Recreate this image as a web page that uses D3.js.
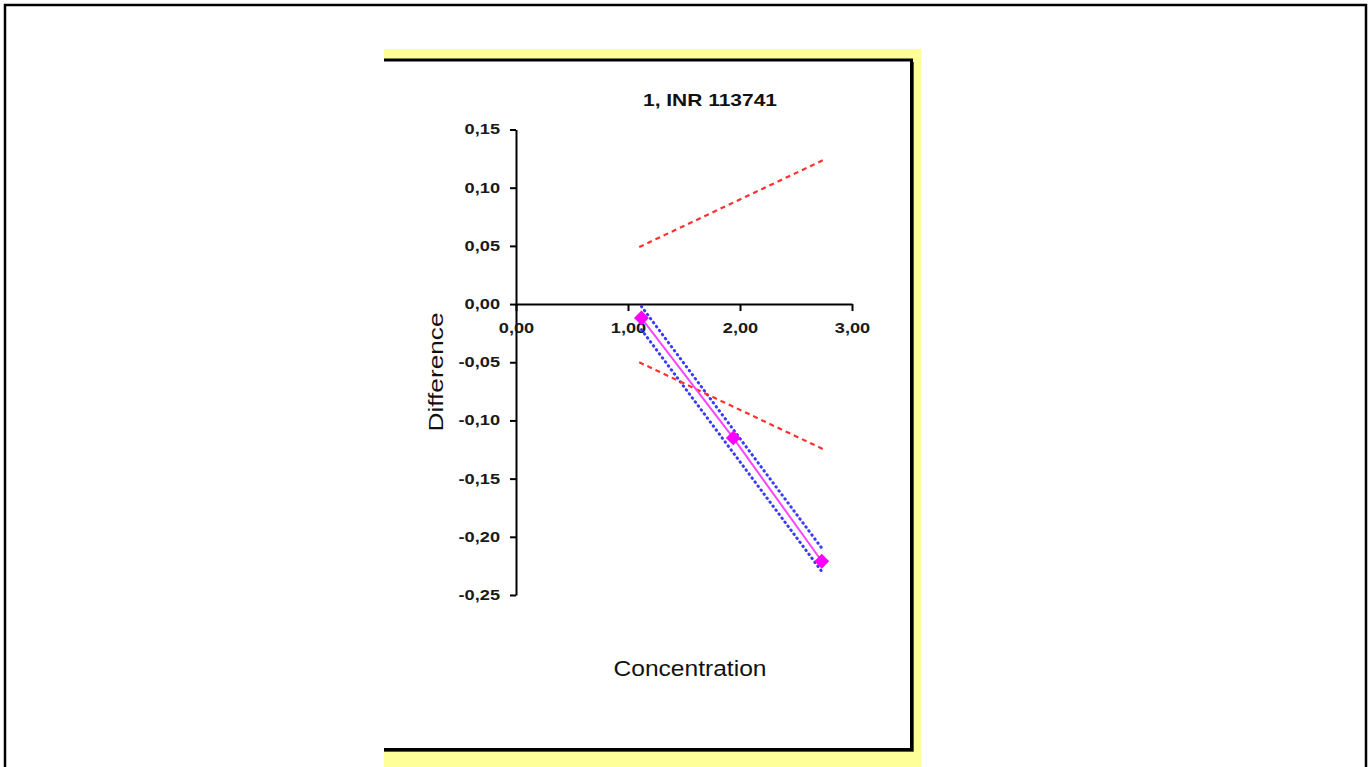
<!doctype html>
<html>
<head>
<meta charset="utf-8">
<script src="https://cdn.jsdelivr.net/npm/d3@7"></script>
<style>
  body { margin: 0; background: #fff; }
  svg { display: block; font-family: "Liberation Sans", Arial, sans-serif; }
</style>
</head>
<body>
<div id="chart"></div>
<script>
var w = 1371;
var h = 767;

// measured points (concentration, difference)
var conc = [1.12, 1.94, 2.73];
var diff = [-0.012, -0.115, -0.221];

// confidence band around the fit (two end points)
var bandX = [1.12, 2.74];
var bandUpper = [-0.002, -0.211];
var bandLower = [-0.022, -0.231];

// acceptance limits
var limX = [1.10, 2.75];
var limUpper = [0.049, 0.124];
var limLower = [-0.050, -0.125];

var xTicks = [0, 1, 2, 3];
var yTicks = [0.15, 0.10, 0.05, 0.00, -0.05, -0.10, -0.15, -0.20, -0.25];

var xScale = d3.scaleLinear().domain([0, 3]).range([516, 852]);
var yScale = d3.scaleLinear().domain([-0.25, 0.15]).range([595, 129.5]);

var fmt = function (d) {
    return d3.format(".2f")(d).replace(".", ",").replace("\u2212", "-");
};

var svg = d3.select("#chart").append("svg")
    .attr("width", w)
    .attr("height", h);

// page frame
svg.append("rect")
    .attr("x", 5).attr("y", 5)
    .attr("width", 1361).attr("height", 800)
    .attr("fill", "none")
    .attr("stroke", "#000")
    .attr("stroke-width", 2.5);

// yellow backdrop + white plot card
svg.append("rect")
    .attr("x", 384).attr("y", 49)
    .attr("width", 537).attr("height", 720)
    .attr("fill", "#ffff99");
svg.append("rect")
    .attr("x", 384).attr("y", 59)
    .attr("width", 527).attr("height", 690)
    .attr("fill", "#fff");
// card border: thin top, heavy right/bottom
svg.append("path")
    .attr("d", "M384,60 H911.5 V749.5 H384")
    .attr("fill", "none")
    .attr("stroke", "#000")
    .attr("stroke-width", 3);
svg.append("path")
    .attr("d", "M913.5,62 V751.5 H384")
    .attr("fill", "none")
    .attr("stroke", "#555")
    .attr("stroke-width", 1);

// axes
var yAxis = d3.axisLeft(yScale)
    .tickValues(yTicks)
    .tickFormat(fmt)
    .tickSize(6)
    .tickSizeOuter(0)
    .tickPadding(10);

var xAxis = d3.axisBottom(xScale)
    .tickValues(xTicks)
    .tickFormat(fmt)
    .tickSize(7)
    .tickSizeOuter(0)
    .tickPadding(12);

var gy = svg.append("g")
    .attr("class", "y axis")
    .attr("transform", "translate(" + xScale(0) + ",0)")
    .call(yAxis);

var gx = svg.append("g")
    .attr("class", "x axis")
    .attr("transform", "translate(0," + yScale(0) + ")")
    .call(xAxis);

svg.selectAll(".axis path, .axis line")
    .attr("stroke", "#000")
    .attr("stroke-width", 2);

svg.selectAll(".axis text")
    .attr("fill", "#1a1a1a")
    .style("font-family", "'Liberation Sans', Arial, sans-serif")
    .style("font-size", "14px")
    .style("font-weight", "bold")
    .each(function () {
        // labels in the picture are drawn wider than the font's natural width
        var len = this.getComputedTextLength();
        d3.select(this)
            .attr("textLength", len * 1.3)
            .attr("lengthAdjust", "spacingAndGlyphs");
    });

// lines
var line = d3.line()
    .x(function (d) { return xScale(d[0]); })
    .y(function (d) { return yScale(d[1]); });

var pairs = function (xs, ys) {
    return xs.map(function (x, i) { return [x, ys[i]]; });
};

// confidence band (blue dotted)
[bandUpper, bandLower].forEach(function (b) {
    svg.append("path")
        .datum(pairs(bandX, b))
        .attr("d", line)
        .attr("fill", "none")
        .attr("stroke", "#3a3aff")
        .attr("stroke-width", 3)
        .attr("stroke-linecap", "round")
        .attr("stroke-dasharray", "0.5,4.5");
});

// limits (red dashed)
[limUpper, limLower].forEach(function (b) {
    svg.append("path")
        .datum(pairs(limX, b))
        .attr("d", line)
        .attr("fill", "none")
        .attr("stroke", "#ff3030")
        .attr("stroke-width", 2.2)
        .attr("stroke-dasharray", "5,4");
});

// data line + markers
var pts = pairs(conc, diff);
svg.append("path")
    .datum(pts)
    .attr("d", line)
    .attr("fill", "none")
    .attr("stroke", "#ff44ff")
    .attr("stroke-width", 2);

svg.selectAll(".marker")
    .data(pts)
    .enter()
    .append("path")
    .attr("class", "marker")
    .attr("d", d3.symbol().type(d3.symbolSquare).size(110))
    .attr("transform", function (d) {
        return "translate(" + xScale(d[0]) + "," + yScale(d[1]) + ")rotate(45)";
    })
    .attr("fill", "#ff00ff");

// titles
svg.append("text")
    .attr("x", 710)
    .attr("y", 106)
    .attr("text-anchor", "middle")
    .attr("textLength", 134)
    .attr("lengthAdjust", "spacingAndGlyphs")
    .style("font-size", "17px")
    .style("font-weight", "bold")
    .attr("fill", "#111")
    .text("1, INR 113741");

svg.append("text")
    .attr("text-anchor", "middle")
    .attr("transform", "translate(443,372)rotate(-90)")
    .attr("textLength", 119)
    .attr("lengthAdjust", "spacingAndGlyphs")
    .style("font-size", "21px")
    .attr("fill", "#111")
    .text("Difference");

svg.append("text")
    .attr("x", 690)
    .attr("y", 676)
    .attr("text-anchor", "middle")
    .attr("textLength", 153)
    .attr("lengthAdjust", "spacingAndGlyphs")
    .style("font-size", "22px")
    .attr("fill", "#111")
    .text("Concentration");
</script>
</body>
</html>
